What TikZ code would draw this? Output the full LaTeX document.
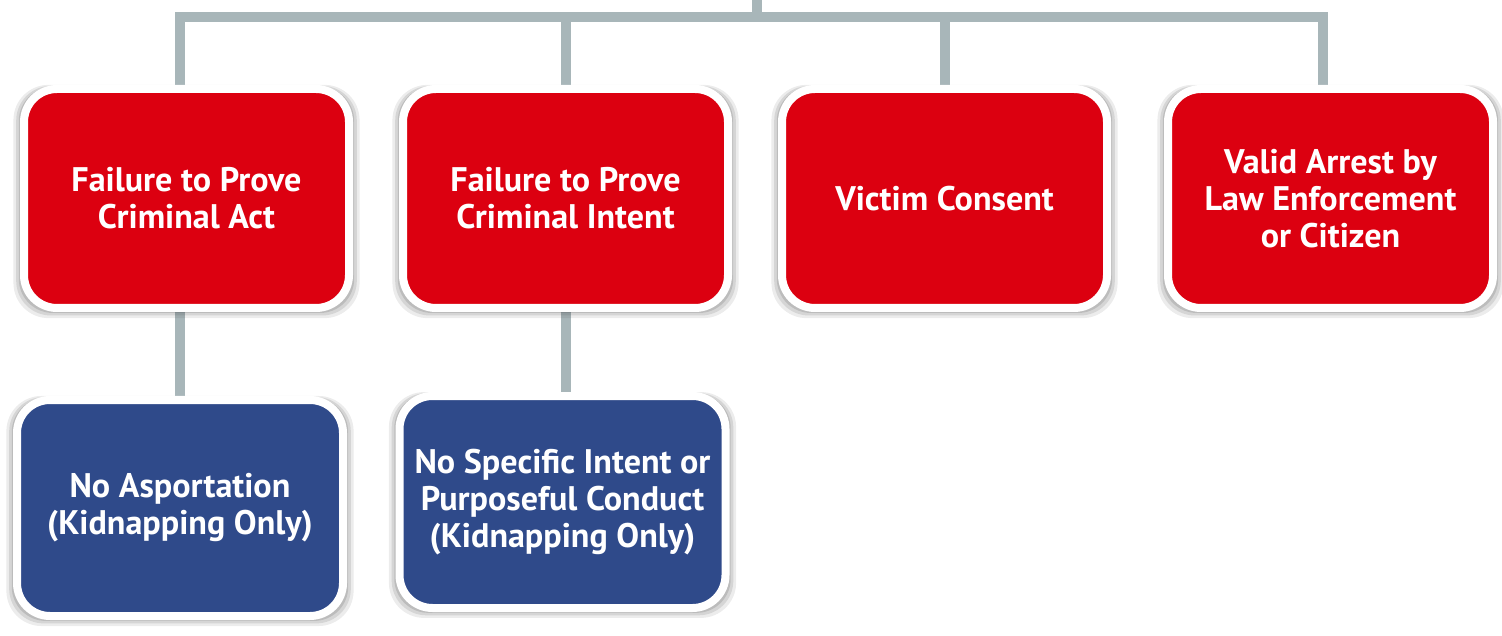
\documentclass[tikz,border=0pt]{standalone}
\usepackage{fontspec}
\setmainfont{PT Sans}
\usetikzlibrary{shadows,backgrounds}

\definecolor{boxRed}{HTML}{DC0010}
\definecolor{boxBlue}{HTML}{2F4A8A}
\definecolor{linkGray}{HTML}{A8B6B9}

\begin{document}
\begin{tikzpicture}[
    card/.style={draw=white, line width=0.08cm, rounded corners=0.33cm,
        inner sep=0pt, outer sep=0pt, align=center, text=white,
        font=\fontsize{9.7}{10.5}\selectfont\bfseries,
        general shadow={fill=black!75, opacity=0.10, shadow scale=1.065, shadow yshift=-0.8pt},
        general shadow={fill=black!75, opacity=0.13, shadow scale=1.048, shadow yshift=-0.6pt},
        general shadow={fill=black!75, opacity=0.17, shadow scale=1.032, shadow yshift=-0.4pt},
        general shadow={fill=black!75, opacity=0.22, shadow scale=1.016}},
    crime/.style={card, fill=boxRed, minimum width=3.25cm, minimum height=2.19cm},
    excuse/.style={card, fill=boxBlue, minimum width=3.26cm},
    link/.style={draw=linkGray, line width=0.1cm},
]
\useasboundingbox (0,0) rectangle (15.02,6.35);

% Top row: red boxes
\node[crime] (act)     at (1.865,4.365)  {Failure to Prove\\Criminal Act};
\node[crime] (intent)  at (5.655,4.365)  {Failure to Prove\\Criminal Intent};
\node[crime] (consent) at (9.445,4.365)  {Victim Consent};
\node[crime] (arrest)  at (13.305,4.365) {Valid Arrest by\\Law Enforcement\\or Citizen};

% Bottom row: blue boxes
\node[excuse, minimum height=2.16cm] (asport) at (1.80,1.27)
    {No Asportation\\(Kidnapping Only)};
\node[excuse, minimum height=2.12cm] (purpose) at (5.625,1.33)
    {No Specific Intent or\\Purposeful Conduct\\(Kidnapping Only)};

% Connectors behind the boxes
\coordinate (top) at (7.57,6.35);
\coordinate (bus) at (7.57,6.18);
\begin{scope}[on background layer]
\draw[link] (top) -- (bus);
\draw[link] (act.north -| asport.north) |- (bus) -| ([xshift=-0.08cm]arrest.north);
\draw[link] (intent.north) -- (intent.north |- bus);
\draw[link] (consent.north) -- (consent.north |- bus);
\draw[link] (asport.north) -- (asport.north |- act.south);
\draw[link] (intent.south) -- (intent.south |- purpose.north);
\end{scope}

\end{tikzpicture}
\end{document}
